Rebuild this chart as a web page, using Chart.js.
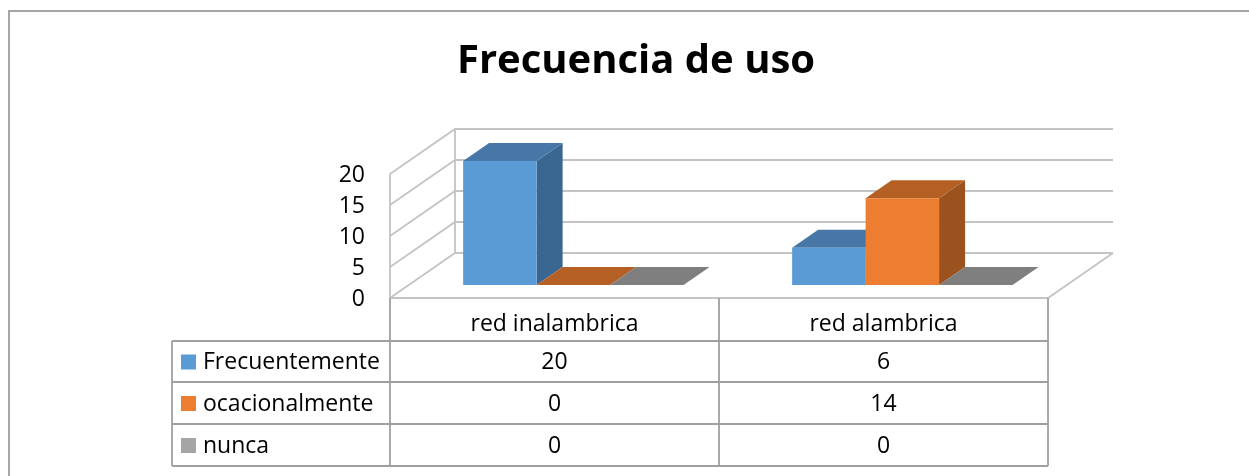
<!DOCTYPE html>
<html>
<head>
<meta charset="utf-8">
<title>Frecuencia de uso</title>
<script src="https://cdn.jsdelivr.net/npm/chart.js"></script>
<style>
  body { margin: 0; background: #fff; }
</style>
</head>
<body>
<canvas id="usoChart" width="1249" height="476"></canvas>
<script>
// data
var categories = ['red inalambrica', 'red alambrica'];
var seriesNames = ['Frecuentemente', 'ocacionalmente', 'nunca'];
var frecuentemente = [20, 6];
var ocacionalmente = [0, 14];
var nunca = [0, 0];
var yTicks = [0, 5, 10, 15, 20];

var FONT = '"Open Sans", Lato, sans-serif';
// front / top / side colours for each series
var faces = [
    { front: '#5b9bd5', top: '#4677a7', side: '#3a6791' },
    { front: '#ed7d31', top: '#b45f23', side: '#9b521f' },
    { front: '#a5a5a5', top: '#7f7f7f', side: '#727272' }
];

// oblique projection of the floor depth
var DEPTH_X = 65, DEPTH_Y = -45;
// bars sit part way into the floor and are 0.4 deep
var BAR_D0 = 0.29, BAR_D = 0.4;

var tableLeft = 172;
var rowEdges = [341, 382, 424, 466];

var fake3d = {
    id: 'fake3d',
    beforeDraw: function(chart) {
        var ctx = chart.ctx, area = chart.chartArea;
        var ys = chart.scales.y;
        var L = area.left, R = area.right;
        ctx.save();
        // outer frame
        ctx.strokeStyle = '#a6a6a6';
        ctx.lineWidth = 2;
        ctx.strokeRect(9, 11, 1300, 600);

        // title
        ctx.fillStyle = '#000';
        ctx.font = 'bold 40px ' + FONT;
        ctx.textAlign = 'center';
        ctx.textBaseline = 'alphabetic';
        ctx.fillText('Frecuencia de uso', 636, 73);

        // walls and gridlines
        ctx.strokeStyle = '#c4c4c4';
        ctx.lineWidth = 1.8;
        ctx.beginPath();
        yTicks.forEach(function(v) {
            var y = ys.getPixelForValue(v);
            ctx.moveTo(L, y);
            ctx.lineTo(L + DEPTH_X, y + DEPTH_Y);
            ctx.lineTo(R + DEPTH_X, y + DEPTH_Y);
        });
        var y0 = ys.getPixelForValue(0), yTop = ys.getPixelForValue(yTicks[yTicks.length - 1]);
        ctx.moveTo(L, y0); ctx.lineTo(L, yTop);
        ctx.moveTo(L + DEPTH_X, y0 + DEPTH_Y); ctx.lineTo(L + DEPTH_X, yTop + DEPTH_Y);
        ctx.moveTo(L, y0); ctx.lineTo(R, y0);
        ctx.lineTo(R + DEPTH_X, y0 + DEPTH_Y);
        ctx.stroke();

        // y tick labels
        ctx.fillStyle = '#000';
        ctx.font = '23px ' + FONT;
        ctx.textAlign = 'right';
        ctx.textBaseline = 'middle';
        yTicks.forEach(function(v) {
            ctx.fillText(String(v), 365, ys.getPixelForValue(v) + 1);
        });
        ctx.restore();
    },
    beforeDatasetsDraw: function(chart) {
        var ctx = chart.ctx;
        var dx = DEPTH_X * BAR_D, dy = DEPTH_Y * BAR_D;
        ctx.save();
        ctx.translate(DEPTH_X * BAR_D0, DEPTH_Y * BAR_D0);
        // side and top faces, the front faces come from Chart.js afterwards
        chart.data.datasets.forEach(function(ds, i) {
            chart.getDatasetMeta(i).data.forEach(function(bar) {
                var p = bar.getProps(['x', 'y', 'base', 'width'], true);
                var x1 = p.x - p.width / 2, x2 = p.x + p.width / 2;
                ctx.fillStyle = faces[i].side;
                ctx.beginPath();
                ctx.moveTo(x2, p.y); ctx.lineTo(x2 + dx, p.y + dy);
                ctx.lineTo(x2 + dx, p.base + dy); ctx.lineTo(x2, p.base);
                ctx.closePath(); ctx.fill();
                ctx.fillStyle = faces[i].top;
                ctx.beginPath();
                ctx.moveTo(x1, p.y); ctx.lineTo(x2, p.y);
                ctx.lineTo(x2 + dx, p.y + dy); ctx.lineTo(x1 + dx, p.y + dy);
                ctx.closePath(); ctx.fill();
            });
        });
    },
    afterDatasetsDraw: function(chart) {
        chart.ctx.restore();
    },
    afterDraw: function(chart) {
        var ctx = chart.ctx, area = chart.chartArea;
        var xs = chart.scales.x;
        var step = xs.getPixelForValue(1) - xs.getPixelForValue(0);
        var cols = [area.left];
        categories.forEach(function(c, j) { cols.push(xs.getPixelForValue(j) + step / 2); });
        var headTop = area.bottom, bottom = rowEdges[rowEdges.length - 1];
        ctx.save();
        ctx.strokeStyle = '#a0a0a0';
        ctx.lineWidth = 1.8;
        ctx.beginPath();
        cols.forEach(function(x) { ctx.moveTo(x, headTop); ctx.lineTo(x, bottom); });
        rowEdges.forEach(function(y) { ctx.moveTo(tableLeft, y); ctx.lineTo(area.right, y); });
        ctx.moveTo(tableLeft, rowEdges[0]); ctx.lineTo(tableLeft, bottom);
        ctx.stroke();

        ctx.fillStyle = '#000';
        ctx.font = '23px ' + FONT;
        ctx.textAlign = 'center';
        ctx.textBaseline = 'middle';
        categories.forEach(function(c, j) {
            ctx.fillText(c, xs.getPixelForValue(j), (headTop + rowEdges[0]) / 2 + 5);
        });
        chart.data.datasets.forEach(function(ds, i) {
            var yc = (rowEdges[i] + rowEdges[i + 1]) / 2 + 1;
            ds.data.forEach(function(v, j) {
                ctx.fillText(String(v), xs.getPixelForValue(j), yc);
            });
            ctx.fillStyle = ds.backgroundColor;
            ctx.fillRect(181, yc - 8, 15, 15);
            ctx.fillStyle = '#000';
            ctx.textAlign = 'left';
            ctx.fillText(ds.label, 203, yc);
            ctx.textAlign = 'center';
        });
        ctx.restore();
    }
};

var seriesValues = [frecuentemente, ocacionalmente, nunca];
new Chart(document.getElementById('usoChart'), {
    type: 'bar',
    data: {
        labels: categories,
        datasets: seriesNames.map(function(name, i) {
            return {
                label: name,
                data: seriesValues[i],
                backgroundColor: faces[i].front,
                borderWidth: 0,
                categoryPercentage: 0.67,
                barPercentage: 1.0,
                clip: false
            };
        })
    },
    options: {
        responsive: false,
        animation: false,
        devicePixelRatio: 1,
        layout: { padding: { left: 390, right: 201, top: 174, bottom: 178 } },
        plugins: {
            legend: { display: false },
            title: { display: false },
            tooltip: { enabled: false }
        },
        scales: {
            x: { display: false },
            y: { display: false, min: 0, max: 20 }
        }
    },
    plugins: [fake3d]
});
</script>
</body>
</html>
